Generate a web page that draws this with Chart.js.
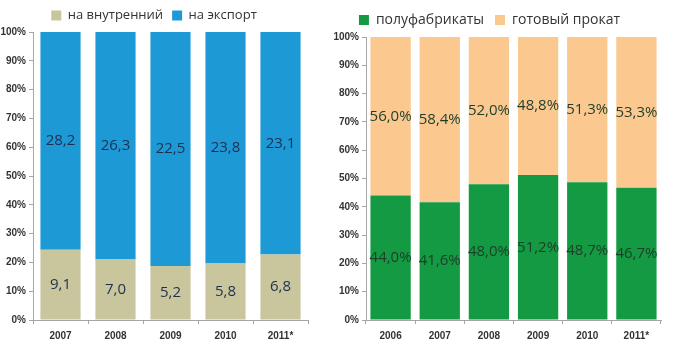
<!DOCTYPE html>
<html>
<head>
<meta charset="utf-8">
<script src="https://cdn.jsdelivr.net/npm/chart.js@4.4.1/dist/chart.umd.min.js"></script>
<style>
	html, body { margin: 0; padding: 0; background: #fff; }
	#wrap { position: relative; width: 686px; height: 354px; }
	.box { position: absolute; top: 0; height: 354px; }
	#left { left: 0; width: 318px; }
	#right { left: 318px; width: 368px; }
</style>
</head>
<body>
<div id="wrap">
	<div class="box" id="left"><canvas id="chartExport"></canvas></div>
	<div class="box" id="right"><canvas id="chartProkat"></canvas></div>
</div>
<script>
// левый график: абсолютные значения, рисуются как доли (100%)
const yearsLeft = ["2007", "2008", "2009", "2010", "2011*"];
const domestic = [9.1, 7.0, 5.2, 5.8, 6.8];
const exportVals = [28.2, 26.3, 22.5, 23.8, 23.1];

// правый график: доли в процентах
const yearsRight = ["2006", "2007", "2008", "2009", "2010", "2011*"];
const semis = [44.0, 41.6, 48.0, 51.2, 48.7, 46.7];
const rolled = [56.0, 58.4, 52.0, 48.8, 51.3, 53.3];

const percentTicks = [0, 10, 20, 30, 40, 50, 60, 70, 80, 90, 100];

const share = (a, b) => a.map((v, i) => (v / (v + b[i])) * 100);

const fmt = (v, digits) => v.toFixed(digits).replace(".", ",");

// подписи внутри сегментов
const segLabels = {
	id: "segLabels",
	afterDatasetsDraw(chart, args, opts) {
		const { ctx } = chart;
		chart.data.datasets.forEach((ds, i) => {
			chart.getDatasetMeta(i).data.forEach((bar, idx) => {
				const yMid = (bar.y + bar.base) / 2;
				ctx.save();
				ctx.font = opts.font;
				ctx.fillStyle = opts.color;
				ctx.textAlign = "center";
				ctx.textBaseline = "middle";
				ctx.fillText(ds.labelsText[idx], bar.x, yMid);
				ctx.restore();
			});
		});
	},
};

function makeConfig(labels, datasets, yWidth, padding, labelOpts, catPct, legendFont, legendPad) {
	return {
		type: "bar",
		data: { labels: labels, datasets: datasets },
		options: {
			responsive: true,
			maintainAspectRatio: false,
			animation: false,
			layout: { padding: padding },
			datasets: { bar: { categoryPercentage: catPct, barPercentage: 1 } },
			scales: {
				x: {
					stacked: true,
					border: { color: "#a6a6a6" },
					grid: { drawOnChartArea: false, drawTicks: true, tickLength: 4, color: "#a6a6a6" },
					ticks: { color: "#333", font: { family: "Liberation Sans", size: 10, weight: "bold" }, padding: 6 },
				},
				y: {
					stacked: true,
					min: 0,
					max: 100,
					afterBuildTicks(axis) {
						axis.ticks = percentTicks.map((v) => ({ value: v }));
					},
					afterFit(axis) {
						axis.width = yWidth;
					},
					border: { color: "#a6a6a6" },
					grid: { drawOnChartArea: false, drawTicks: true, tickLength: 4, color: "#a6a6a6" },
					ticks: {
						color: "#333",
						font: { family: "Liberation Sans", size: 10, weight: "bold" },
						padding: 3,
						callback: (v) => v + "%",
					},
				},
			},
			plugins: {
				legend: {
					position: "top",
					align: "center",
					labels: {
						boxWidth: 10,
						boxHeight: 10,
						color: "#333",
						font: { family: "Open Sans", size: legendFont },
						padding: legendPad,
					},
				},
				tooltip: { enabled: false },
				segLabels: labelOpts,
			},
		},
		plugins: [segLabels],
	};
}

new Chart(
	document.getElementById("chartExport"),
	makeConfig(
		yearsLeft,
		[
			{
				label: "на внутренний",
				data: share(domestic, exportVals),
				labelsText: domestic.map((v) => fmt(v, 1)),
				backgroundColor: "#c9c59c",
			},
			{
				label: "на экспорт",
				data: share(exportVals, domestic),
				labelsText: exportVals.map((v) => fmt(v, 1)),
				backgroundColor: "#1d9ad6",
			},
		],
		33,
		{ left: 0, right: 10, top: 0, bottom: 6 },
		{ font: "15px 'Open Sans'", color: "#1f2f4f" },
		0.73,
		13,
		9
	)
);

new Chart(
	document.getElementById("chartProkat"),
	makeConfig(
		yearsRight,
		[
			{
				label: "полуфабрикаты",
				data: semis,
				labelsText: semis.map((v) => fmt(v, 1) + "%"),
				backgroundColor: "#149a42",
			},
			{
				label: "готовый прокат",
				data: rolled,
				labelsText: rolled.map((v) => fmt(v, 1) + "%"),
				backgroundColor: "#fbc890",
			},
		],
		48,
		{ left: 0, right: 25, top: 2, bottom: 6 },
		{ font: "15px 'Open Sans'", color: "#1e3d2a" },
		0.82,
		14,
		11
	)
);
</script>
</body>
</html>
